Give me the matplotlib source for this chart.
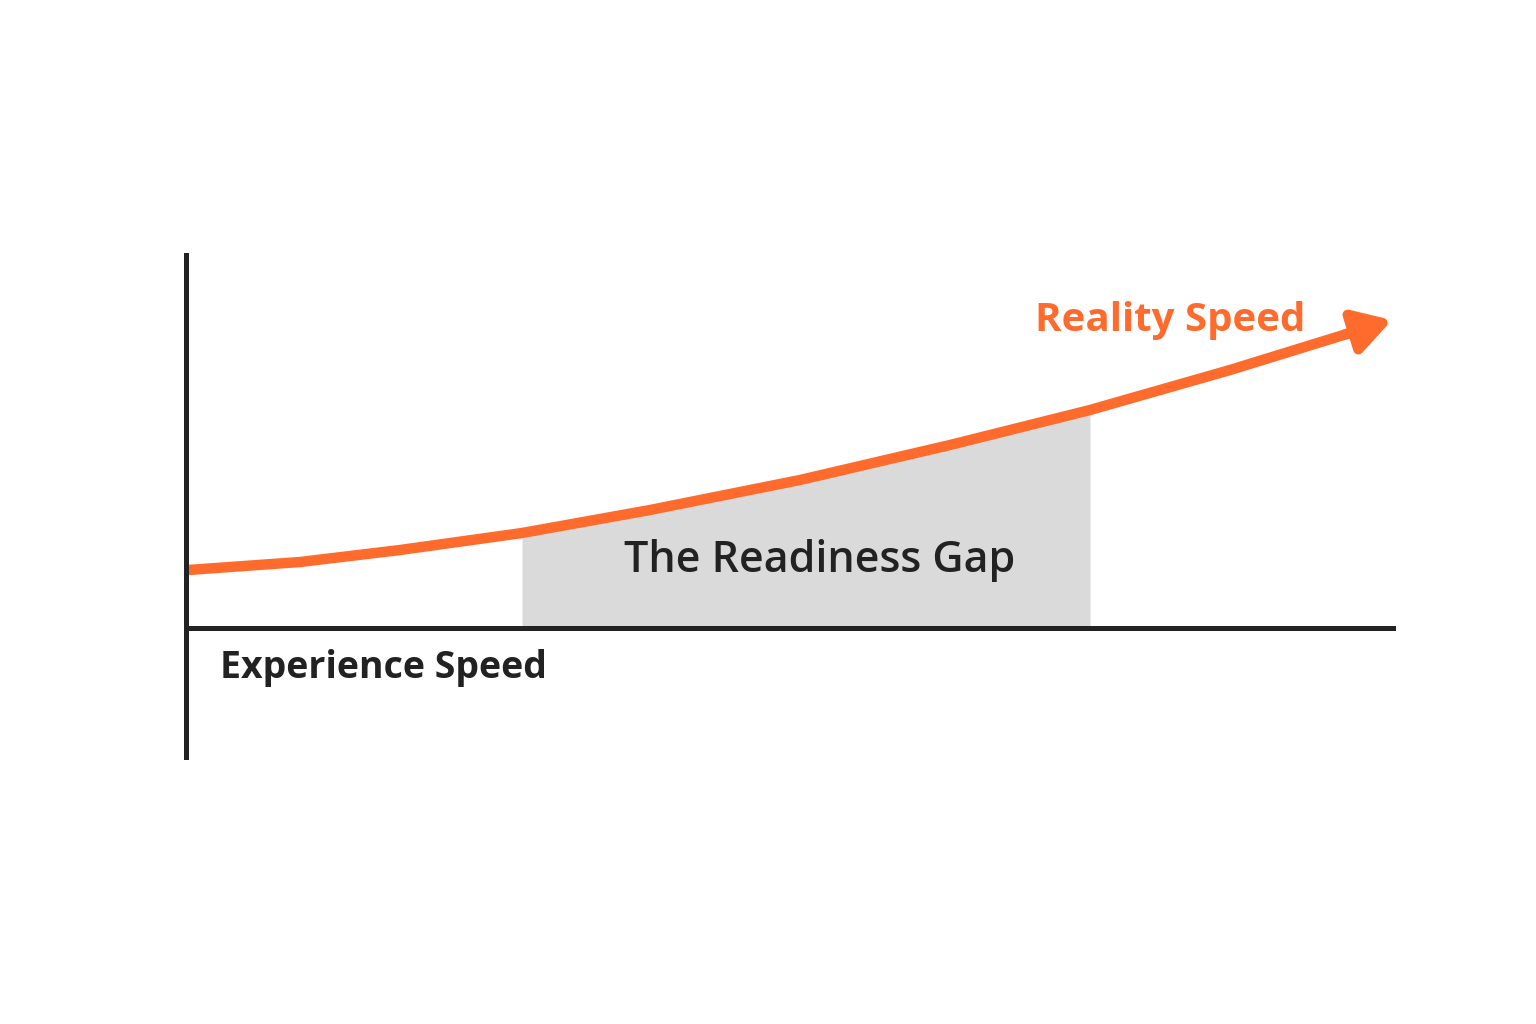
import matplotlib
matplotlib.use("Agg")
import matplotlib.pyplot as plt
import numpy as np

# curve points (pixel-like coordinate space)
curve_x = [188, 300, 400, 522, 650, 800, 950, 1090, 1230, 1350]
curve_y = [570, 562, 550, 533, 510, 480, 445, 410, 370, 333]
arrow_tip = (1392, 320)
gap_start, gap_end = 522, 1090
axis_y = 628
labels = {"gap": "The Readiness Gap", "x": "Experience Speed", "curve": "Reality Speed"}

orange = "#FF6B2C"
fig = plt.figure(figsize=(15.36, 10.24), dpi=100)
ax = fig.add_axes([0, 0, 1, 1])
ax.set_xlim(0, 1536)
ax.set_ylim(1024, 0)
ax.axis("off")

cx = np.array(curve_x); cy = np.array(curve_y)
mask = (cx >= gap_start) & (cx <= gap_end)
ax.fill_between(cx[mask], cy[mask], axis_y, color="#DADADA", lw=0, zorder=1)

ax.plot(cx, cy, color=orange, lw=7.5, solid_capstyle="butt", zorder=3)
ax.annotate("", xy=arrow_tip, xytext=(cx[-1]-5, cy[-1]+1.5),
            arrowprops=dict(arrowstyle="-|>,head_length=2.2,head_width=1.3",
                            color=orange, lw=7.5, shrinkA=0, shrinkB=0), zorder=4)

ax.plot([186, 186], [255, 757], color="#222222", lw=3.6, zorder=5)
ax.plot([186, 1393], [axis_y, axis_y], color="#222222", lw=3.6, zorder=5)

ax.text(820, 560, labels["gap"], ha="center", va="center", fontsize=31,
        family="Open Sans", weight="semibold", color="#222222", zorder=6)
ax.text(220, 668, labels["x"], ha="left", va="center", fontsize=27,
        family="Open Sans", weight="bold", color="#222222")
ax.text(1170, 321, labels["curve"], ha="center", va="center", fontsize=29,
        family="Open Sans", weight="bold", color=orange)

fig.savefig("out.png", dpi=100, facecolor="white")
